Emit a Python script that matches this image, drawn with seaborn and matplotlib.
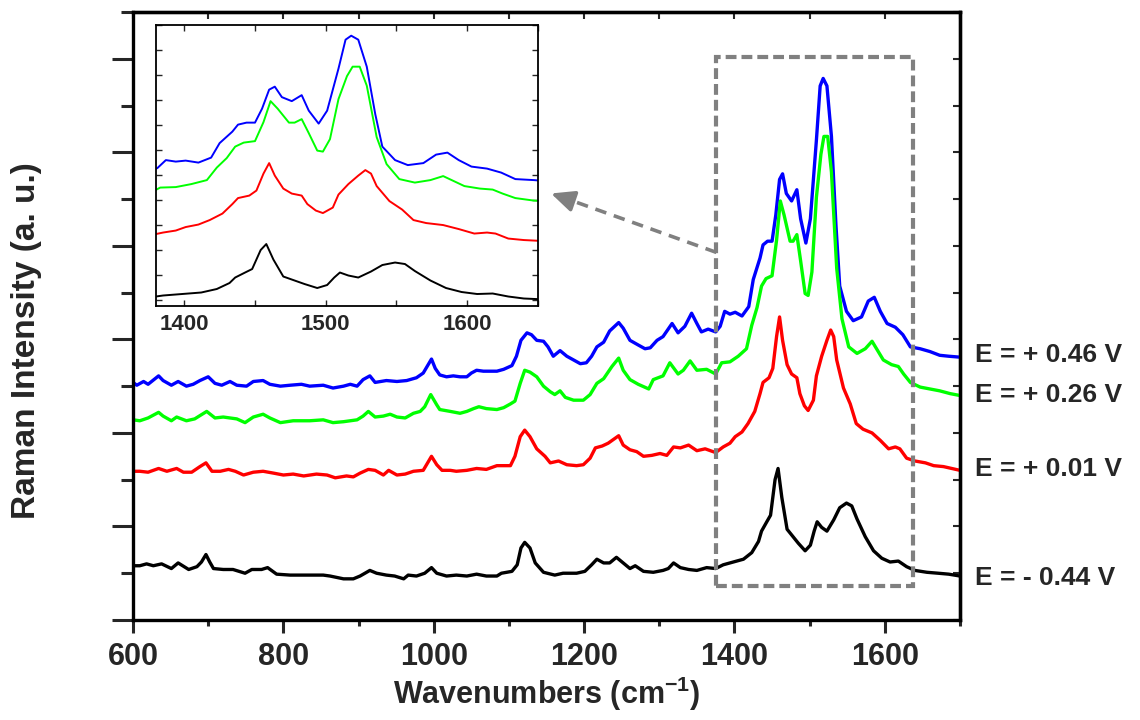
import matplotlib
matplotlib.use("Agg")
import matplotlib.pyplot as plt
from matplotlib.patches import Rectangle
from matplotlib.ticker import MultipleLocator
import numpy as np
import pandas as pd
import seaborn as sns

# spectra (wavenumber in cm-1, intensity in a.u., already offset)
wn_neg044 = [600, 609, 618, 627, 638, 651, 660, 674, 685, 691, 697, 702, 707, 720, 733, 749, 758, 771,
             779, 791, 809, 835, 853, 862, 880, 893, 902, 915, 924, 937, 948, 960, 966, 977, 988, 997,
             1004, 1017, 1030, 1044, 1057, 1070, 1084, 1090, 1104, 1111, 1116, 1121, 1128, 1135, 1146,
             1161, 1172, 1190, 1201, 1210, 1217, 1226, 1234, 1243, 1252, 1261, 1268, 1279, 1292, 1305,
             1312, 1319, 1328, 1339, 1350, 1363, 1375, 1385, 1394, 1412, 1423, 1432, 1436, 1443, 1448,
             1454, 1458, 1463, 1470, 1478, 1485, 1494, 1501, 1506, 1510, 1516, 1523, 1532, 1540, 1549,
             1556, 1563, 1574, 1585, 1596, 1607, 1618, 1629, 1640, 1656, 1671, 1685, 1700]
int_neg044 = [0.58, 0.58, 0.60, 0.58, 0.60, 0.55, 0.61, 0.54, 0.57, 0.62, 0.70, 0.62, 0.55, 0.54, 0.54,
              0.50, 0.54, 0.54, 0.56, 0.49, 0.48, 0.48, 0.48, 0.47, 0.44, 0.44, 0.47, 0.53, 0.50, 0.48,
              0.47, 0.44, 0.48, 0.47, 0.50, 0.56, 0.50, 0.47, 0.48, 0.47, 0.49, 0.47, 0.47, 0.50, 0.52,
              0.59, 0.77, 0.83, 0.77, 0.61, 0.51, 0.48, 0.50, 0.50, 0.52, 0.59, 0.65, 0.61, 0.61, 0.67,
              0.61, 0.55, 0.58, 0.52, 0.51, 0.53, 0.55, 0.61, 0.56, 0.54, 0.53, 0.56, 0.55, 0.59, 0.61,
              0.65, 0.72, 0.84, 0.95, 1.05, 1.12, 1.50, 1.62, 1.31, 0.97, 0.89, 0.82, 0.74, 0.80, 0.95,
              1.05, 0.99, 0.95, 1.07, 1.20, 1.25, 1.22, 1.08, 0.89, 0.74, 0.66, 0.62, 0.63, 0.57, 0.53,
              0.51, 0.50, 0.49, 0.47]

wn_pos001 = [600, 609, 620, 634, 645, 658, 667, 678, 689, 697, 705, 716, 727, 736, 747, 760, 773, 787,
             800, 813, 827, 844, 858, 869, 884, 893, 902, 913, 922, 933, 940, 951, 962, 973, 986, 997,
             1004, 1011, 1022, 1030, 1044, 1057, 1070, 1084, 1102, 1108, 1115, 1121, 1128, 1137, 1148,
             1155, 1166, 1177, 1190, 1199, 1208, 1215, 1224, 1232, 1246, 1252, 1261, 1270, 1279, 1290,
             1301, 1310, 1319, 1328, 1339, 1350, 1361, 1375, 1385, 1394, 1401, 1410, 1418, 1427, 1434,
             1438, 1446, 1451, 1456, 1460, 1464, 1470, 1476, 1483, 1487, 1493, 1498, 1505, 1509, 1516,
             1523, 1528, 1532, 1536, 1545, 1554, 1562, 1571, 1583, 1594, 1605, 1614, 1620, 1629, 1640,
             1654, 1665, 1678, 1689, 1700]
int_pos001 = [1.59, 1.59, 1.58, 1.62, 1.59, 1.62, 1.58, 1.58, 1.64, 1.68, 1.59, 1.59, 1.61, 1.59, 1.55,
              1.58, 1.59, 1.57, 1.55, 1.56, 1.54, 1.56, 1.55, 1.52, 1.54, 1.53, 1.57, 1.61, 1.60, 1.55,
              1.60, 1.55, 1.56, 1.59, 1.60, 1.75, 1.66, 1.60, 1.60, 1.59, 1.60, 1.62, 1.61, 1.65, 1.65,
              1.75, 1.96, 2.03, 1.96, 1.83, 1.75, 1.68, 1.70, 1.66, 1.65, 1.66, 1.73, 1.84, 1.86, 1.89,
              1.97, 1.87, 1.82, 1.80, 1.75, 1.76, 1.78, 1.76, 1.85, 1.84, 1.87, 1.81, 1.83, 1.79, 1.85,
              1.89, 1.96, 2.01, 2.10, 2.23, 2.42, 2.54, 2.59, 2.69, 3.03, 3.24, 2.99, 2.73, 2.63, 2.59,
              2.42, 2.29, 2.24, 2.35, 2.61, 2.82, 2.99, 3.10, 3.03, 2.78, 2.48, 2.31, 2.10, 2.04, 2.00,
              1.92, 1.83, 1.85, 1.83, 1.73, 1.70, 1.68, 1.65, 1.64, 1.62, 1.60]

wn_pos026 = [600, 609, 620, 634, 640, 651, 658, 671, 682, 698, 709, 720, 729, 738, 749, 760, 773, 782,
             796, 813, 835, 853, 866, 880, 898, 906, 913, 922, 933, 942, 951, 962, 973, 982, 988, 996,
             1004, 1008, 1022, 1035, 1044, 1053, 1060, 1070, 1084, 1093, 1102, 1108, 1115, 1121, 1128,
             1137, 1146, 1155, 1161, 1168, 1175, 1186, 1199, 1208, 1217, 1226, 1237, 1246, 1252, 1261,
             1272, 1286, 1292, 1305, 1314, 1325, 1332, 1341, 1350, 1363, 1375, 1383, 1394, 1405, 1416,
             1423, 1430, 1436, 1442, 1450, 1456, 1461, 1466, 1474, 1478, 1483, 1488, 1494, 1498, 1503,
             1509, 1515, 1519, 1524, 1529, 1536, 1543, 1552, 1563, 1574, 1583, 1589, 1598, 1609, 1618,
             1625, 1634, 1647, 1660, 1673, 1687, 1700]
int_pos026 = [2.14, 2.13, 2.16, 2.22, 2.18, 2.13, 2.17, 2.13, 2.15, 2.23, 2.16, 2.17, 2.16, 2.15, 2.11,
              2.17, 2.20, 2.16, 2.11, 2.13, 2.13, 2.14, 2.11, 2.12, 2.14, 2.18, 2.23, 2.17, 2.18, 2.20,
              2.17, 2.16, 2.21, 2.23, 2.28, 2.41, 2.30, 2.25, 2.23, 2.21, 2.23, 2.26, 2.28, 2.26, 2.25,
              2.27, 2.31, 2.34, 2.53, 2.67, 2.65, 2.60, 2.50, 2.44, 2.41, 2.45, 2.38, 2.35, 2.35, 2.41,
              2.53, 2.58, 2.71, 2.80, 2.67, 2.57, 2.52, 2.47, 2.57, 2.61, 2.75, 2.63, 2.67, 2.77, 2.67,
              2.68, 2.63, 2.75, 2.76, 2.82, 2.90, 3.15, 3.34, 3.57, 3.65, 3.68, 4.06, 4.48, 4.33, 4.05,
              4.05, 4.12, 3.84, 3.49, 3.47, 3.72, 4.52, 4.98, 5.17, 5.17, 4.79, 3.76, 3.22, 2.92, 2.85,
              2.90, 2.98, 2.90, 2.78, 2.73, 2.71, 2.63, 2.54, 2.49, 2.47, 2.45, 2.42, 2.40]

wn_pos046 = [600, 605, 614, 620, 634, 640, 651, 660, 671, 680, 689, 700, 709, 718, 729, 738, 751, 760,
             773, 782, 796, 809, 824, 835, 853, 866, 880, 889, 898, 906, 915, 922, 937, 951, 964, 977,
             986, 997, 1002, 1008, 1017, 1026, 1035, 1044, 1050, 1057, 1066, 1075, 1084, 1093, 1104,
             1110, 1116, 1124, 1130, 1137, 1146, 1152, 1159, 1168, 1177, 1186, 1195, 1203, 1210, 1217,
             1226, 1234, 1246, 1252, 1261, 1272, 1281, 1288, 1297, 1305, 1317, 1325, 1334, 1343, 1350,
             1356, 1365, 1375, 1381, 1387, 1394, 1401, 1410, 1419, 1425, 1434, 1438, 1444, 1450, 1455,
             1460, 1464, 1469, 1476, 1483, 1488, 1495, 1501, 1509, 1514, 1518, 1523, 1529, 1535, 1540,
             1549, 1558, 1569, 1578, 1586, 1594, 1603, 1614, 1624, 1634, 1647, 1660, 1673, 1685, 1700]
int_pos046 = [2.54, 2.51, 2.55, 2.52, 2.61, 2.56, 2.51, 2.55, 2.50, 2.52, 2.56, 2.60, 2.53, 2.51, 2.55,
              2.51, 2.50, 2.55, 2.56, 2.52, 2.50, 2.51, 2.52, 2.50, 2.51, 2.48, 2.50, 2.52, 2.50, 2.57,
              2.61, 2.54, 2.56, 2.55, 2.56, 2.59, 2.64, 2.79, 2.69, 2.62, 2.60, 2.61, 2.60, 2.60, 2.64,
              2.67, 2.66, 2.66, 2.66, 2.68, 2.72, 2.82, 2.99, 3.07, 3.05, 2.99, 2.98, 2.92, 2.82, 2.88,
              2.82, 2.78, 2.74, 2.75, 2.82, 2.92, 2.97, 3.09, 3.18, 3.12, 2.99, 2.94, 2.90, 2.91, 2.99,
              3.03, 3.17, 3.07, 3.14, 3.28, 3.17, 3.08, 3.11, 3.08, 3.14, 3.30, 3.27, 3.29, 3.25, 3.35,
              3.64, 3.87, 4.01, 4.05, 4.05, 4.33, 4.71, 4.77, 4.56, 4.48, 4.60, 4.29, 4.03, 4.29, 5.13,
              5.71, 5.79, 5.71, 5.17, 4.22, 3.57, 3.30, 3.20, 3.24, 3.41, 3.45, 3.30, 3.17, 3.13, 3.05,
              2.92, 2.90, 2.87, 2.83, 2.82, 2.81]

potentials = ["E = + 0.46 V", "E = + 0.26 V", "E = + 0.01 V", "E = - 0.44 V"]
line_colors = ["#0000ff", "#00ff00", "#ff0000", "#000000"]
label_heights = [2.83, 2.41, 1.61, 0.45]

sns.set_style("ticks")
plt.rcParams["font.family"] = ["Liberation Sans", "DejaVu Sans"]
plt.rcParams["font.weight"] = "bold"
plt.rcParams["mathtext.fontset"] = "custom"
plt.rcParams["mathtext.rm"] = "Liberation Sans:bold"
plt.rcParams["mathtext.bf"] = "Liberation Sans:bold"
plt.rcParams["mathtext.default"] = "rm"

frames = []
for label, wn, inten in zip(potentials,
                            [wn_pos046, wn_pos026, wn_pos001, wn_neg044],
                            [int_pos046, int_pos026, int_pos001, int_neg044]):
    frames.append(pd.DataFrame({"Wavenumber": wn, "Intensity": inten, "Potential": label}))
df = pd.concat(frames, ignore_index=True)
palette = dict(zip(potentials, line_colors))

fig = plt.figure(figsize=(11.4, 7.2), dpi=100)
ax = fig.add_axes([0.1167, 0.1389, 0.7254, 0.8444])
axin = fig.add_axes([0.1368, 0.575, 0.3351, 0.390])

# main panel
sns.lineplot(data=df, x="Wavenumber", y="Intensity", hue="Potential", palette=palette,
             estimator=None, sort=False, lw=2.4, legend=False, ax=ax)
ax.set_xlim(600, 1700)
ax.set_ylim(0, 6.5)
ax.xaxis.set_major_locator(MultipleLocator(200))
ax.xaxis.set_minor_locator(MultipleLocator(100))
ax.yaxis.set_major_locator(MultipleLocator(1))
ax.yaxis.set_minor_locator(MultipleLocator(0.5))
ax.tick_params(axis="x", which="major", direction="out", length=9.5, width=2.2, labelsize=22, pad=6)
ax.tick_params(axis="x", which="minor", direction="out", length=4, width=2.2)
ax.tick_params(axis="y", which="major", direction="out", length=15, width=2.2, labelleft=False)
ax.tick_params(axis="y", which="minor", direction="out", length=9, width=2.2)
for lab in ax.get_xticklabels():
    lab.set_fontweight("bold")
for sp in ax.spines.values():
    sp.set_linewidth(2.4)
    sp.set_color("black")

top = ax.secondary_xaxis("top")
top.xaxis.set_major_locator(MultipleLocator(100))
top.tick_params(direction="in", length=5, width=1.5, labeltop=False)
top.spines["top"].set_linewidth(2.4)
right = ax.secondary_yaxis("right")
right.yaxis.set_major_locator(MultipleLocator(0.5))
right.tick_params(direction="in", length=5, width=1.5, labelright=False)
right.spines["right"].set_linewidth(2.4)

ax.set_xlabel("Wavenumbers (cm$^{-1}$)", fontsize=22, fontweight="bold", labelpad=2)
ax.set_ylabel("Raman Intensity (a. u.)", fontsize=24, fontweight="bold")
ax.yaxis.set_label_coords(-0.11, 0.46)

for label, h in zip(potentials, label_heights):
    ax.text(1720, h, label, fontsize=19, fontweight="bold", ha="left", va="center", clip_on=False)

# dashed zoom box and arrow towards the inset
ax.add_patch(Rectangle((1375, 0.36), 262, 5.66, fill=False, edgecolor="#808080",
                       lw=3, ls=(0, (2.6, 1.2)), zorder=3))
ax.plot([1376, 1178], [3.93, 4.50], color="#808080", lw=2.6, ls=(0, (3.2, 2.2)), zorder=3)
ax.annotate("", xy=(1156, 4.56), xytext=(1185, 4.48),
            arrowprops=dict(arrowstyle="-|>,head_length=0.7,head_width=0.32",
                            color="#808080", lw=2.6, mutation_scale=20, shrinkA=0, shrinkB=0))

# inset
sns.lineplot(data=df, x="Wavenumber", y="Intensity", hue="Potential", palette=palette,
             estimator=None, sort=False, lw=1.4, legend=False, ax=axin)
axin.set_xlim(1380, 1650)
axin.set_ylim(0.38, 6.0)
axin.set_xlabel("")
axin.set_ylabel("")
axin.xaxis.set_major_locator(MultipleLocator(100))
axin.xaxis.set_minor_locator(MultipleLocator(50))
axin.yaxis.set_major_locator(MultipleLocator(0.5))
axin.tick_params(axis="both", which="both", direction="in", length=4, width=1.0,
                 top=True, right=True, labelleft=False, labelsize=16, pad=6)
for lab in axin.get_xticklabels():
    lab.set_fontweight("bold")
for sp in axin.spines.values():
    sp.set_linewidth(1.3)
    sp.set_color("black")

fig.savefig("out.png", dpi=100)
